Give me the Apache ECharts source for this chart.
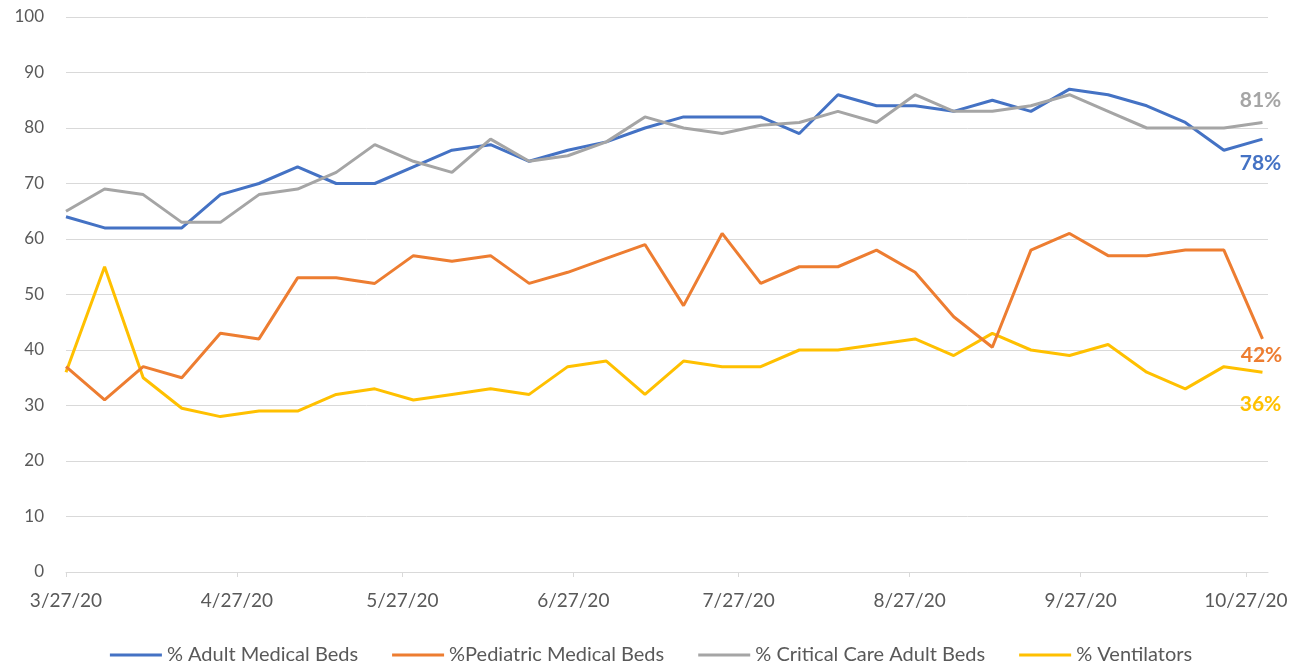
<!DOCTYPE html>
<html>
<head>
<meta charset="utf-8">
<script src="https://cdn.jsdelivr.net/npm/echarts@6/dist/echarts.min.js"></script>
<style>
  html, body { margin: 0; padding: 0; background: #ffffff; }
  #chart { width: 1302px; height: 661px; }
</style>
</head>
<body>
<div id="chart"></div>
<script>
// Weekly reporting dates (M/D/YYYY)
const dates = [
  '3/27/2020','4/3/2020','4/10/2020','4/17/2020','4/24/2020','5/1/2020','5/8/2020','5/15/2020',
  '5/22/2020','5/29/2020','6/5/2020','6/12/2020','6/19/2020','6/26/2020','7/3/2020','7/10/2020',
  '7/17/2020','7/24/2020','7/31/2020','8/7/2020','8/14/2020','8/21/2020','8/28/2020','9/4/2020',
  '9/11/2020','9/18/2020','9/25/2020','10/2/2020','10/9/2020','10/16/2020','10/23/2020','10/30/2020'
];
// Axis tick / label dates
const tickDates = ['3/27/2020','4/27/2020','5/27/2020','6/27/2020','7/27/2020','8/27/2020','9/27/2020','10/27/2020'];
const axisStart = '3/27/2020';
const axisEnd = '10/31/2020';

const seriesNames = ['% Adult Medical Beds', '%Pediatric Medical Beds', '% Critical Care Adult Beds', '% Ventilators'];

const adultBeds = [64, 62, 62, 62, 68, 70, 73, 70, 70, 73, 76, 77, 74, 76, 77.5, 80,
                   82, 82, 82, 79, 86, 84, 84, 83, 85, 83, 87, 86, 84, 81, 76, 78];
const pediatricBeds = [37, 31, 37, 35, 43, 42, 53, 53, 52, 57, 56, 57, 52, 54, 56.5, 59,
                       48, 61, 52, 55, 55, 58, 54, 46, 40.5, 58, 61, 57, 57, 58, 58, 42];
const criticalCare = [65, 69, 68, 63, 63, 68, 69, 72, 77, 74, 72, 78, 74, 75, 77.5, 82,
                      80, 79, 80.5, 81, 83, 81, 86, 83, 83, 84, 86, 83, 80, 80, 80, 81];
const ventilators = [36, 55, 35, 29.5, 28, 29, 29, 32, 33, 31, 32, 33, 32, 37, 38, 32,
                     38, 37, 37, 40, 40, 41, 42, 39, 43, 40, 39, 41, 36, 33, 37, 36];

const colors = ['#4472C4', '#ED7D31', '#A5A5A5', '#FFC000'];
const endLabelOffsets = [[-2, 24], [-1, 16], [-2, -22], [-2, 32]];

function toTime(s) {
  const p = s.split('/').map(Number);
  return Date.UTC(p[2], p[0] - 1, p[1]);
}
function fmt(t) {
  const d = new Date(t);
  return (d.getUTCMonth() + 1) + '/' + d.getUTCDate() + '/' + String(d.getUTCFullYear()).slice(2);
}

const allValues = [adultBeds, pediatricBeds, criticalCare, ventilators];
const times = dates.map(toTime);
const tickTimes = tickDates.map(toTime);
const FONT = 'Lato, "Open Sans", sans-serif';

const series = allValues.map((vals, i) => {
  const last = vals.length - 1;
  return {
    name: seriesNames[i],
    type: 'line',
    symbol: 'none',
    data: vals.map((v, k) => [times[k], v]),
    lineStyle: { width: 3, color: colors[i] },
    itemStyle: { color: colors[i] },
    z: [2, 1, 3, 0][i] + 2,
    markPoint: {
      symbol: 'circle',
      symbolSize: 1,
      itemStyle: { color: 'rgba(0,0,0,0)' },
      data: [{
        coord: [times[last], vals[last]],
        value: vals[last],
        label: {
          show: true,
          position: 'inside',
          offset: endLabelOffsets[i],
          formatter: Math.round(vals[last]) + '%',
          color: colors[i],
          fontFamily: FONT,
          fontWeight: 'bold',
          fontSize: 21
        }
      }]
    }
  };
});

const chart = echarts.init(document.getElementById('chart'));
chart.setOption({
  animation: false,
  backgroundColor: '#ffffff',
  grid: { left: 66, right: 34, top: 17, bottom: 89, containLabel: false },
  legend: {
    data: seriesNames,
    top: 640,
    left: 'center',
    icon: 'rect',
    itemWidth: 52,
    itemHeight: 3,
    itemGap: 34,
    textStyle: { color: '#595959', fontSize: 20, fontFamily: FONT }
  },
  xAxis: {
    type: 'value',
    min: toTime(axisStart),
    max: toTime(axisEnd),
    axisLine: { show: true, lineStyle: { color: '#d9d9d9', width: 1 } },
    axisTick: { show: true, customValues: tickTimes, length: 5, lineStyle: { color: '#d9d9d9' } },
    axisLabel: {
      customValues: tickTimes,
      formatter: (v) => fmt(v),
      color: '#595959',
      fontSize: 19,
      fontFamily: FONT,
      margin: 19,
      hideOverlap: false,
      showMinLabel: true,
      showMaxLabel: true
    },
    splitLine: { show: false }
  },
  yAxis: {
    type: 'value',
    min: 0,
    max: 100,
    interval: 10,
    axisLine: { show: false },
    axisTick: { show: false },
    axisLabel: { color: '#595959', fontSize: 17, fontFamily: FONT, margin: 22 },
    splitLine: { lineStyle: { color: '#d9d9d9', width: 1 } }
  },
  series: series
});
</script>
</body>
</html>
